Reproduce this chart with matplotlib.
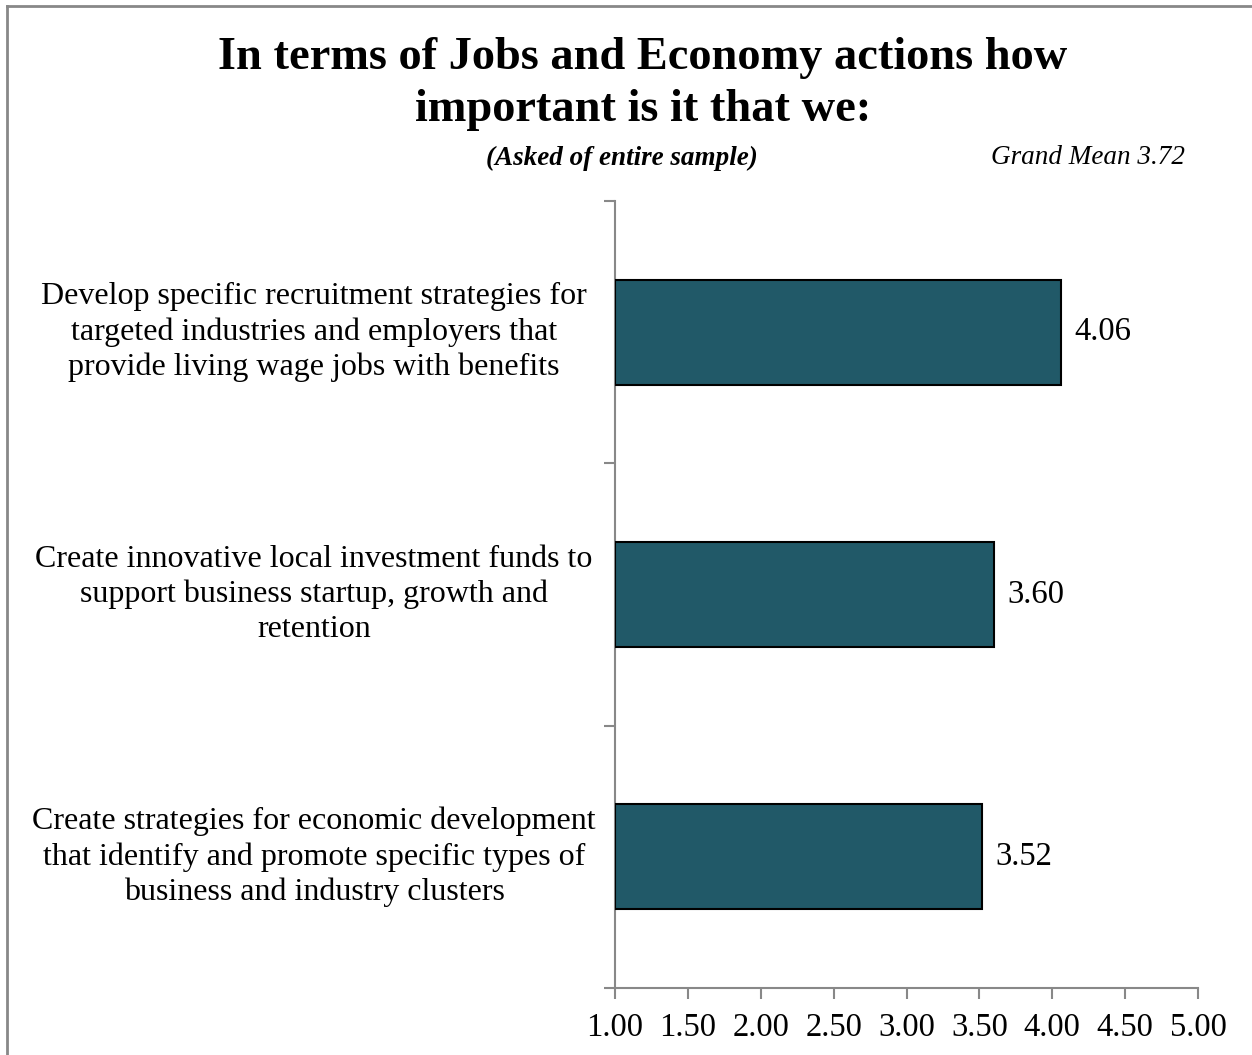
import matplotlib.pyplot as plt
from matplotlib.lines import Line2D

categories = [
    'Develop specific recruitment strategies for\ntargeted industries and employers that\nprovide living wage jobs with benefits',
    'Create innovative local investment funds to\nsupport business startup, growth and\nretention',
    'Create strategies for economic development\nthat identify and promote specific types of\nbusiness and industry clusters',
]
values = [4.06, 3.60, 3.52]
x_ticks = [1.00, 1.50, 2.00, 2.50, 3.00, 3.50, 4.00, 4.50, 5.00]
title = 'In terms of Jobs and Economy actions how\nimportant is it that we:'
subtitle = '(Asked of entire sample)'
grand_mean = 'Grand Mean 3.72'

plt.rcParams['font.family'] = ['Liberation Serif', 'DejaVu Serif']

W, H = 1252, 1055
fig = plt.figure(figsize=(W / 100, H / 100), dpi=100)
ax = fig.add_axes([615 / W, 67 / H, (1198 - 615) / W, (988 - 201) / H])

# bars start at 1.00, the axis origin
pos = [2.5, 1.5, 0.5]
base = 1.0
ax.barh(pos, [v - base for v in values], left=base, height=0.4,
        color='#215968', edgecolor='black', linewidth=1.5, zorder=3)
for p, v in zip(pos, values):
    ax.text(v + 0.09, p, f'{v:.2f}', va='center', ha='left', fontsize=23.5)

ax.set_xlim(1, 5)
ax.set_ylim(0, 3)
ax.set_xticks(x_ticks)
ax.set_xticklabels([f'{t:.2f}' for t in x_ticks], fontsize=23.5)
ax.set_yticks([0, 1, 2, 3])
ax.set_yticklabels([])
ax.tick_params(axis='both', direction='out', length=8, color='#888888', width=1.5)
ax.tick_params(axis='x', pad=10)
for s in ['top', 'right']:
    ax.spines[s].set_visible(False)
for s in ['left', 'bottom']:
    ax.spines[s].set_color('#888888')
    ax.spines[s].set_linewidth(1.5)

# category labels, centred to the left of the axis
for p, c in zip(pos, categories):
    ax.text(-0.516, p, c, transform=ax.get_yaxis_transform(), ha='center', va='center',
            fontsize=23, linespacing=1.28)

fig.text(643 / W, 1 - 84 / H, title, ha='center', va='center', fontsize=33.4,
         fontweight='bold', linespacing=1.32)
fig.text(622 / W, 1 - 158 / H, subtitle, ha='center', va='center', fontsize=19.5,
         fontweight='bold', fontstyle='italic')
fig.text(1185 / W, 1 - 158 / H, grand_mean, ha='right', va='center', fontsize=19.5,
         fontstyle='italic')

# border on left and top
fig.add_artist(Line2D([7 / W, 7 / W], [0, 1 - 6 / H], color='#888888', lw=2, transform=fig.transFigure))
fig.add_artist(Line2D([7 / W, 1], [1 - 6 / H, 1 - 6 / H], color='#888888', lw=2, transform=fig.transFigure))

fig.savefig('out.png', dpi=100)
